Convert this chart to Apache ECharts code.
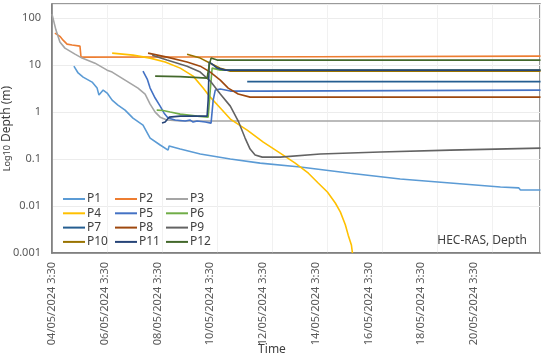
<!DOCTYPE html>
<html>
<head>
<meta charset="utf-8">
<script src="https://cdn.jsdelivr.net/npm/echarts@6/dist/echarts.min.js"></script>
<style>
html,body{margin:0;padding:0;background:#fff;}
#c{width:543px;height:355px;}
</style>
</head>
<body>
<div id="c"></div>
<script>
// x values are days since 04/05/2024 3:30
const xTickLabels = ['04/05/2024 3:30','06/05/2024 3:30','08/05/2024 3:30','10/05/2024 3:30','12/05/2024 3:30','14/05/2024 3:30','16/05/2024 3:30','18/05/2024 3:30','20/05/2024 3:30'];
const yTickLabels = ['0.001','0.01','0.1','1','10','100'];
const seriesNames = ['P1','P2','P3','P4','P5','P6','P7','P8','P9','P10','P11','P12'];

const p1Days  = [0.83,0.99,1.18,1.52,1.71,1.78,1.94,2.09,2.28,2.50,2.77,3.07,3.45,3.72,4.10,4.40,4.44,4.86,5.62,6.76,7.89,9.41,11.31,13.2,15.1,17.0,17.69,17.76,18.52];
const p1Depth = [9.5,6.8,5.55,4.35,3.24,2.30,2.94,2.54,1.80,1.41,1.10,0.745,0.53,0.28,0.199,0.155,0.189,0.163,0.128,0.100,0.082,0.0676,0.050,0.0375,0.031,0.0254,0.0244,0.0219,0.0219];

const p2Days  = [0.11,0.30,0.42,0.57,0.76,1.06,1.10,5.0,10.0,18.52];
const p2Depth = [48,41,34,28,26.7,25.4,14.8,14.9,15.1,15.5];

const p3Days  = [0,0.15,0.30,0.49,0.87,1.14,1.63,2.09,2.28,2.77,3.26,3.53,3.72,3.91,4.10,4.36,4.86,18.52];
const p3Depth = [122,55.6,30.9,23,17.1,14.1,11.0,7.8,7.1,4.8,3.24,2.42,1.48,1.0,0.78,0.68,0.644,0.644];

const p4Days  = [2.28,3.07,3.72,4.29,4.86,5.35,5.73,6.00,6.38,6.76,7.40,8.01,8.65,9.22,9.72,10.09,10.44,10.74,10.93,11.12,11.23,11.35,11.39];
const p4Depth = [18.0,16.3,14.1,11.6,8.63,5.83,3.24,2.08,1.22,0.71,0.414,0.230,0.134,0.082,0.050,0.031,0.0199,0.0116,0.0075,0.0040,0.0024,0.00148,0.001];

const p5Days  = [3.45,3.61,3.72,3.91,4.10,4.25,4.40,4.67,5.05,5.24,5.35,5.50,5.81,6.03,6.11,6.19,6.38,6.76,7.89,18.52];
const p5Depth = [7.45,5.04,3.24,1.99,1.34,0.95,0.745,0.676,0.644,0.676,0.613,0.644,0.613,0.583,1.80,2.94,3.09,2.80,2.80,2.94];

const p6Days  = [3.97,4.21,4.48,4.86,5.50,5.92,6.00,6.07,6.38,18.52];
const p6Depth = [1.10,1.08,1.0,0.906,0.82,0.78,2.94,8.63,7.83,7.83];

const p7Days  = [7.40,18.52];
const p7Depth = [4.46,4.46];

const p8Days  = [3.64,4.36,5.12,5.62,6.00,6.38,6.68,7.06,7.51,18.52];
const p8Depth = [18.0,14.8,11.6,9.5,7.1,4.8,3.24,2.42,2.08,2.08];

const p9Days  = [3.80,4.36,5.12,5.62,6.00,6.38,6.76,7.06,7.32,7.51,7.70,7.97,8.65,10.17,12.45,15.1,18.52];
const p9Depth = [16.3,12.8,9.5,7.1,4.57,2.42,1.34,0.644,0.28,0.163,0.122,0.110,0.110,0.128,0.141,0.155,0.171];

const p10Days  = [5.12,5.62,6.00,6.38,6.76,18.52];
const p10Depth = [17.1,14.1,11.0,8.6,7.45,7.45];

const p11Days  = [4.17,4.29,4.44,4.86,5.88,5.92,5.96,6.07,6.26,6.57,18.52];
const p11Depth = [0.583,0.613,0.78,0.82,0.82,1.80,11.6,10.5,8.63,7.83,7.83];

const p12Days  = [3.91,4.86,5.88,5.96,6.03,6.26,18.52];
const p12Depth = [5.83,5.69,5.29,10,14.1,12.8,12.8];

const allDays  = [p1Days,p2Days,p3Days,p4Days,p5Days,p6Days,p7Days,p8Days,p9Days,p10Days,p11Days,p12Days];
const allDepth = [p1Depth,p2Depth,p3Depth,p4Depth,p5Depth,p6Depth,p7Depth,p8Depth,p9Depth,p10Depth,p11Depth,p12Depth];

const colors = ['#5B9BD5','#ED7D31','#A5A5A5','#FFC000','#4472C4','#70AD47','#255E91','#9E480E','#636363','#997300','#264478','#43682B'];
const FONT = 'Noto Sans';

const chart = echarts.init(document.getElementById('c'), null, {renderer:'canvas'});

const series = seriesNames.map((n,i)=>({
  name:n, type:'line', xAxisIndex:0, yAxisIndex:0,
  data: allDays[i].map((d,j)=>[d, allDepth[i][j]]),
  showSymbol:false, symbol:'none', animation:false,
  lineStyle:{color:colors[i], width:1.6},
  itemStyle:{color:colors[i]}
}));

function legendCol(names, left){
  return {
    orient:'vertical', left:left, top:192, padding:0, itemWidth:22, itemHeight:2, icon:'rect',
    itemGap:0.3, data:names,
    textStyle:{fontFamily:FONT, fontSize:12, color:'#404040', lineHeight:14, padding:[0,0,0,-3]},
    selectedMode:false
  };
}

chart.setOption({
  animation:false,
  color:colors,
  title:{text:'HEC-RAS, Depth', right:11, top:230,
    textStyle:{fontFamily:FONT, fontSize:12, fontWeight:'normal', color:'#404040'}},
  legend:[
    legendCol(['P1','P4','P7','P10'], 63),
    legendCol(['P2','P5','P8','P11'], 115),
    legendCol(['P3','P6','P9','P12'], 166)
  ],
  grid:{left:52, right:3, top:4, bottom:102, containLabel:false, outerBoundsMode:'none',
    show:true, borderColor:'#7a7a7a', borderWidth:1.5, backgroundColor:'transparent'},
  xAxis:[{
    type:'value', min:0, max:18.5, interval:2,
    name:'Time', nameLocation:'middle', nameGap:91, nameMoveOverlap:false,
    nameTextStyle:{fontFamily:FONT, fontSize:12, color:'#404040', padding:[0,48,0,0]},
    axisLine:{show:true, lineStyle:{color:'#7a7a7a', width:1.5}},
    axisTick:{show:false},
    splitLine:{show:false},
    axisLabel:{rotate:90, margin:9, fontFamily:FONT, fontSize:11, color:'#595959',
      showMaxLabel:false,
      formatter:function(v){const i=Math.round(v/2); if(Math.abs(v/2-i)>1e-6) return ''; return xTickLabels[i]||'';}}
  },{
    type:'value', min:0, max:18.5, interval:2.085, position:'bottom',
    axisLine:{show:false}, axisTick:{show:false}, axisLabel:{show:false},
    splitLine:{show:true, lineStyle:{color:'#f1f1f1', width:1}}
  }],
  yAxis:{
    type:'log', logBase:10, min:0.001, max:200,
    name:'{s|Log10} Depth (m)', nameLocation:'middle', nameGap:39, nameMoveOverlap:false,
    nameTextStyle:{fontFamily:FONT, fontSize:12, color:'#404040', rich:{s:{fontFamily:FONT, fontSize:9, color:'#404040'}}},
    axisLine:{show:true, lineStyle:{color:'#7a7a7a', width:1.5}},
    axisTick:{show:false},
    splitLine:{show:true, lineStyle:{color:'#ececec', width:1}},
    axisLabel:{fontFamily:FONT, fontSize:11, color:'#595959', margin:11, showMaxLabel:false,
      formatter:function(v){const l=Math.log10(v); const e=Math.round(l); if(Math.abs(l-e)>1e-6) return ''; return yTickLabels[e+3]||'';}}
  },
  series:series
});
</script>
</body>
</html>
